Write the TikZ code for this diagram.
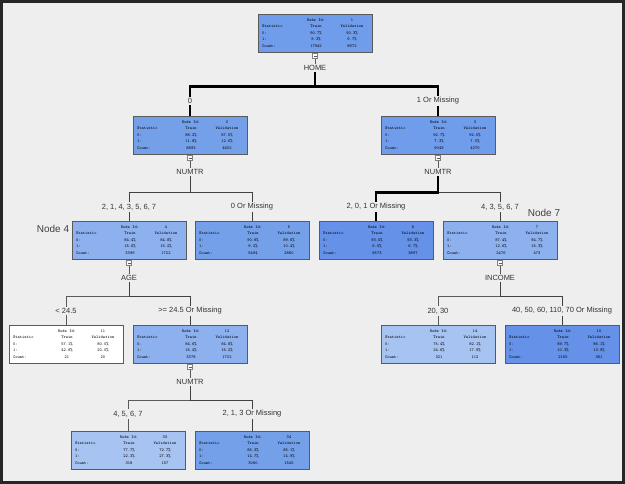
\documentclass[tikz,border=0pt]{standalone}
\usepackage{fontspec}
\setsansfont{Liberation Sans}
\usepackage{array}
\usepackage{xcolor}
\usepackage{tikz}
\usetikzlibrary{positioning,shadows}
\definecolor{sasbg}{HTML}{EEEEEE}
\definecolor{sasline}{HTML}{5A5A5A}
\definecolor{bA}{HTML}{6F9CEB}
\definecolor{bB}{HTML}{74A0EA}
\definecolor{bC}{HTML}{8DB0EF}
\definecolor{bD}{HTML}{6591E8}
\definecolor{bE}{HTML}{A7C3F1}

% statistics table inside a tree node
\newcommand{\stats}[7]{%
  \fontsize{4.3}{6.4}\selectfont\ttfamily
  \begin{tabular}{@{}p{34pt}@{}>{\centering}p{40pt}@{}>{\centering\arraybackslash}p{32pt}@{}}
   & Node Id: & #1\\
  Statistic & Train & Validation\\
  0: & #2 & #3\\
  1: & #4 & #5\\
  Count: & #6 & #7
  \end{tabular}}

\begin{document}
\begin{tikzpicture}[x=1pt, y=-1pt,
  nb/.style={draw=sasline, line width=0.4pt, inner xsep=4pt, inner ysep=3pt,
             drop shadow={shadow xshift=1.3pt, shadow yshift=-1.3pt, opacity=0.35}},
  tg/.style={draw=gray, fill=white, minimum size=5pt, inner sep=0pt,
             path picture={\draw[sasline] ([xshift=1pt]path picture bounding box.west)
                           -- ([xshift=-1pt]path picture bounding box.east);}},
  sp/.style={font=\sffamily\fontsize{7.5}{9}\selectfont, text=black!80, inner sep=1.5pt},
  tag/.style={font=\sffamily\fontsize{10}{12}\selectfont, text=black!75},
  thk/.style={line width=2.4pt, black},
  mid/.style={line width=1pt, black!75},
  thn/.style={line width=0.6pt, sasline}]
\useasboundingbox (0,0) rectangle (625,484);
\draw[line width=3pt, black!85, fill=sasbg] (1.5,1.5) rectangle (623.5,482.5);

% level 1
\node[nb, fill=bA] (n1) at (315,33) {\stats{1}{90.7\%}{90.3\%}{9.3\%}{9.7\%}{17942}{8972}};
\node[tg] (t1) at (315,56) {};
\node[sp] (s1) at (315,68) {HOME};
\node[sp] (e2) at (190,101) {0};
\node[sp] (e3) at (438,101) {1 Or Missing};
\draw[thn] (t1) -- (s1);
\draw[thk] (s1.south) -- ++(0,14) -| (e2.north);
\draw[thk] (s1.south) -- ++(0,14) -| (e3.north);

% level 2
\node[nb, fill=bB] (n2) at (190,135) {\stats{2}{88.2\%}{87.5\%}{11.8\%}{12.5\%}{8893}{4602}};
\node[nb, fill=bA] (n3) at (438,135) {\stats{3}{92.7\%}{92.5\%}{7.3\%}{7.5\%}{9049}{4370}};
\draw[thk] (e2) -- (n2);
\draw[thk] (e3) -- (n3);
\node[tg] (t2) at (190,158) {};
\node[sp] (s2) at (190,172) {NUMTR};
\node[tg] (t3) at (438,158) {};
\node[sp] (s3) at (438,172) {NUMTR};
\node[sp] (e4) at (129,207) {2, 1, 4, 3, 5, 6, 7};
\node[sp] (e5) at (252,207) {0 Or Missing};
\node[sp] (e6) at (376,207) {2, 0, 1 Or Missing};
\node[sp] (e7) at (500,207) {4, 3, 5, 6, 7};
\draw[thn] (t2) -- (s2);
\draw[thn] (t3) -- (s3);
\draw[mid] (s2.south) -- ++(0,16) -| (e4.north);
\draw[mid] (s2.south) -- ++(0,16) -| (e5.north);
\draw[mid] (s3.south) -- ++(0,16) -| (e7.north);
\draw[thk] (s3.south) -- ++(0,16) -| (e6.north);

% level 3
\node[nb, fill=bC] (n4) at (129,240) {\stats{4}{84.4\%}{84.8\%}{15.6\%}{15.2\%}{3399}{1722}};
\node[nb, fill=bB] (n5) at (252,240) {\stats{5}{90.8\%}{89.6\%}{9.2\%}{10.4\%}{5494}{2880}};
\node[nb, fill=bD] (n6) at (376,240) {\stats{6}{93.5\%}{93.3\%}{6.5\%}{6.7\%}{6573}{3897}};
\node[nb, fill=bC] (n7) at (500,240) {\stats{7}{87.4\%}{84.7\%}{12.6\%}{15.3\%}{2476}{473}};
\node[tag] (lb4) at (53,229) {Node 4};
\node[tag] (lb7) at (544,213) {Node 7};
\draw[mid] (e4) -- (n4);
\draw[mid] (e5) -- (n5);
\draw[thk] (e6) -- (n6);
\draw[mid] (e7) -- (n7);
\node[tg] (t4) at (129,263) {};
\node[sp] (s4) at (129,278) {AGE};
\node[tg] (t7) at (500,263) {};
\node[sp] (s7) at (500,278) {INCOME};
\node[sp] (e11) at (66,311) {< 24.5};
\node[sp] (e12) at (190,311) {>= 24.5 Or Missing};
\node[sp] (e14) at (438,311) {20, 30};
\node[sp] (e15) at (562,311) {40, 50, 60, 110, 70 Or Missing};
\draw[thn] (t4) -- (s4);
\draw[thn] (t7) -- (s7);
\draw[thn] (s4.south) -- ++(0,14) -| (e11.north);
\draw[mid] (s4.south) -- ++(0,14) -| (e12.north);
\draw[thn] (s7.south) -- ++(0,14) -| (e14.north);
\draw[mid] (s7.south) -- ++(0,14) -| (e15.north);

% level 4
\node[nb, fill=white] (n11) at (66,344) {\stats{11}{57.1\%}{80.0\%}{42.9\%}{20.0\%}{21}{20}};
\node[nb, fill=bC] (n12) at (190,344) {\stats{12}{84.6\%}{84.8\%}{15.4\%}{15.2\%}{3378}{1702}};
\node[nb, fill=bE] (n14) at (438,344) {\stats{14}{75.4\%}{82.1\%}{24.6\%}{17.9\%}{321}{112}};
\node[nb, fill=bD] (n15) at (562,344) {\stats{15}{89.7\%}{86.1\%}{10.3\%}{13.9\%}{2155}{361}};
\draw[thn] (e11) -- (n11);
\draw[mid] (e12) -- (n12);
\draw[thn] (e14) -- (n14);
\draw[mid] (e15) -- (n15);
\node[tg] (t12) at (190,367) {};
\node[sp] (s12) at (190,382) {NUMTR};
\node[sp] (e33) at (128,414) {4, 5, 6, 7};
\node[sp] (e34) at (252,414) {2, 1, 3 Or Missing};
\draw[thn] (t12) -- (s12);
\draw[thn] (s12.south) -- ++(0,14) -| (e33.north);
\draw[mid] (s12.south) -- ++(0,14) -| (e34.north);

% level 5
\node[nb, fill=bE] (n33) at (128,450) {\stats{33}{77.7\%}{72.7\%}{22.3\%}{27.3\%}{318}{157}};
\node[nb, fill=bB] (n34) at (252,450) {\stats{34}{85.3\%}{85.1\%}{14.7\%}{14.9\%}{3060}{1545}};
\draw[thn] (e33) -- (n33);
\draw[mid] (e34) -- (n34);
\end{tikzpicture}
\end{document}
